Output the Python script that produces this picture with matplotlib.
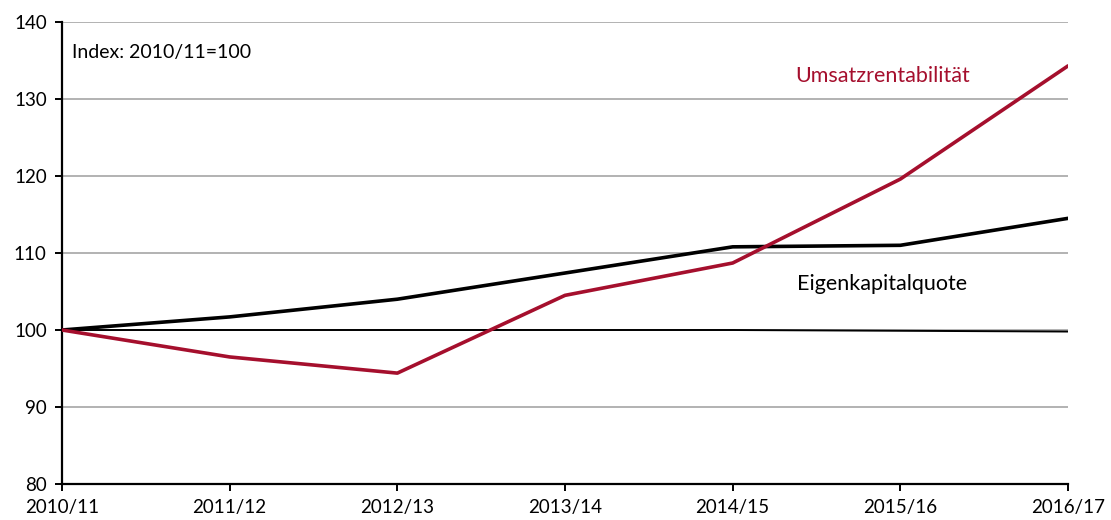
import matplotlib
matplotlib.use("Agg")
import matplotlib.pyplot as plt

years = ["2010/11", "2011/12", "2012/13", "2013/14", "2014/15", "2015/16", "2016/17"]
eigenkapitalquote = [100.0, 101.7, 104.0, 107.4, 110.8, 111.0, 114.5]
umsatzrentabilitaet = [100.0, 96.5, 94.4, 104.5, 108.7, 119.6, 134.3]
baseline = [100.0, 100.0, 100.0, 100.0, 100.0, 99.9, 99.8]
yticks = [80, 90, 100, 110, 120, 130, 140]

plt.rcParams['font.family'] = ['Lato', 'DejaVu Sans']

fig = plt.figure(figsize=(11.11, 5.2), dpi=100)
ax = fig.add_axes([62/1111, 36/520, 1006/1111, 462/520])

x = list(range(len(years)))
for t in yticks[1:]:
    ax.axhline(t, color="#a6a6a6", lw=1.2, zorder=0)
ax.plot(x, baseline, color="black", lw=1.4, zorder=2)
ax.plot(x, eigenkapitalquote, color="black", lw=2.6, zorder=3, solid_capstyle="round")
ax.plot(x, umsatzrentabilitaet, color="#a50f2d", lw=2.6, zorder=4, solid_capstyle="round")

ax.set_xlim(0, len(years) - 1)
ax.set_ylim(80, 140)
ax.set_yticks(yticks)
ax.set_xticks(x)
ax.set_xticklabels(years)
for s in ["top", "right"]:
    ax.spines[s].set_visible(False)
ax.spines["left"].set_linewidth(1.6)
ax.spines["bottom"].set_linewidth(1.6)
ax.tick_params(axis="y", length=5, width=1.4, labelsize=13.5, pad=6, direction="out")
ax.tick_params(axis="x", length=5, width=1.4, labelsize=13.5, pad=6, direction="out")

ax.text(0.06, 136.1, "Index: 2010/11=100", fontsize=14, va="center", ha="left")
ax.text(4.372, 133.0, "Umsatzrentabilität", fontsize=15.5, color="#a50f2d", va="center", ha="left")
ax.text(4.384, 106.0, "Eigenkapitalquote", fontsize=15.5, color="black", va="center", ha="left")

fig.savefig("out.png", dpi=100)
